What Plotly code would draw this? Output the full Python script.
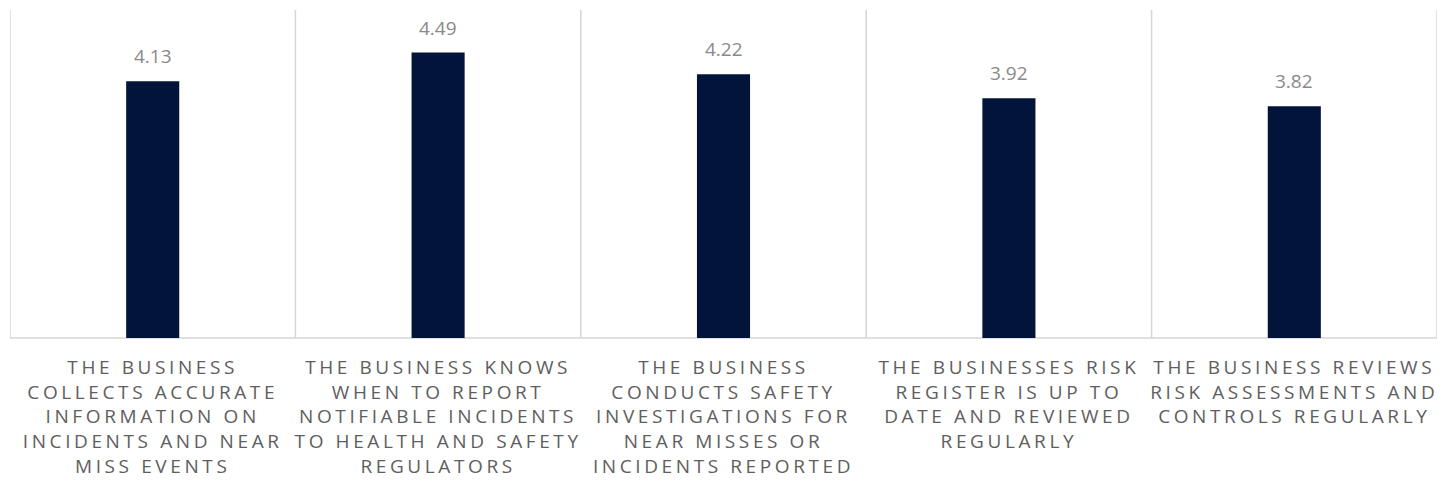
import plotly.graph_objects as go

categories = [
    "THE BUSINESS<br>COLLECTS ACCURATE<br>INFORMATION ON<br>INCIDENTS AND NEAR<br>MISS EVENTS",
    "THE BUSINESS KNOWS<br>WHEN TO REPORT<br>NOTIFIABLE INCIDENTS<br>TO HEALTH AND SAFETY<br>REGULATORS",
    "THE BUSINESS<br>CONDUCTS SAFETY<br>INVESTIGATIONS FOR<br>NEAR MISSES OR<br>INCIDENTS REPORTED",
    "THE BUSINESSES RISK<br>REGISTER IS UP TO<br>DATE AND REVIEWED<br>REGULARLY",
    "THE BUSINESS REVIEWS<br>RISK ASSESSMENTS AND<br>CONTROLS REGULARLY",
]
scores = [4.13, 4.49, 4.22, 3.92, 3.82]

BAR_COLOR = "#02143A"
GRID_COLOR = "#d6d6d6"
LABEL_COLOR = "#8a8a8a"
TICK_COLOR = "#5e5e5e"
FONT = "Open Sans"

positions = list(range(len(scores)))

fig = go.Figure(
    go.Bar(
        x=positions,
        y=scores,
        marker=dict(color=BAR_COLOR, line=dict(width=0)),
        width=0.186,
        hoverinfo="skip",
    )
)

# value labels above each bar
for xi, v in zip(positions, scores):
    fig.add_annotation(
        x=xi, y=v, text=f"{v:.2f}", showarrow=False,
        yanchor="bottom", yshift=10,
        font=dict(family=FONT, size=19, color=LABEL_COLOR),
    )

# vertical separators at category boundaries
for b in [p - 0.5 for p in positions] + [positions[-1] + 0.5]:
    fig.add_shape(
        type="line", xref="x", yref="paper", x0=b, x1=b, y0=0, y1=1,
        line=dict(color=GRID_COLOR, width=1.5), layer="below",
    )
# baseline
fig.add_shape(
    type="line", xref="paper", yref="paper", x0=0, x1=1, y0=0, y1=0,
    line=dict(color=GRID_COLOR, width=1.5), layer="below",
)

fig.update_layout(
    width=1447, height=484,
    margin=dict(l=10, r=10, t=10, b=146),
    plot_bgcolor="white", paper_bgcolor="white",
    showlegend=False,
    xaxis=dict(
        range=[-0.5, len(scores) - 0.5],
        tickmode="array", tickvals=positions, ticktext=categories,
        showgrid=False, zeroline=False, showline=False, ticks="",
        tickfont=dict(family=FONT, size=19, color=TICK_COLOR),
        tickangle=0,
        ticklabelstandoff=16,
        automargin=False,
    ),
    yaxis=dict(
        range=[0.93, 5.02], visible=False, showgrid=False, zeroline=False,
        automargin=False,
    ),
)

spacing_js = """
document.querySelectorAll('.xtick text').forEach(function(t){
  t.style.letterSpacing = '3.6px';
});
"""

fig.write_html("out.html", post_script=spacing_js)
